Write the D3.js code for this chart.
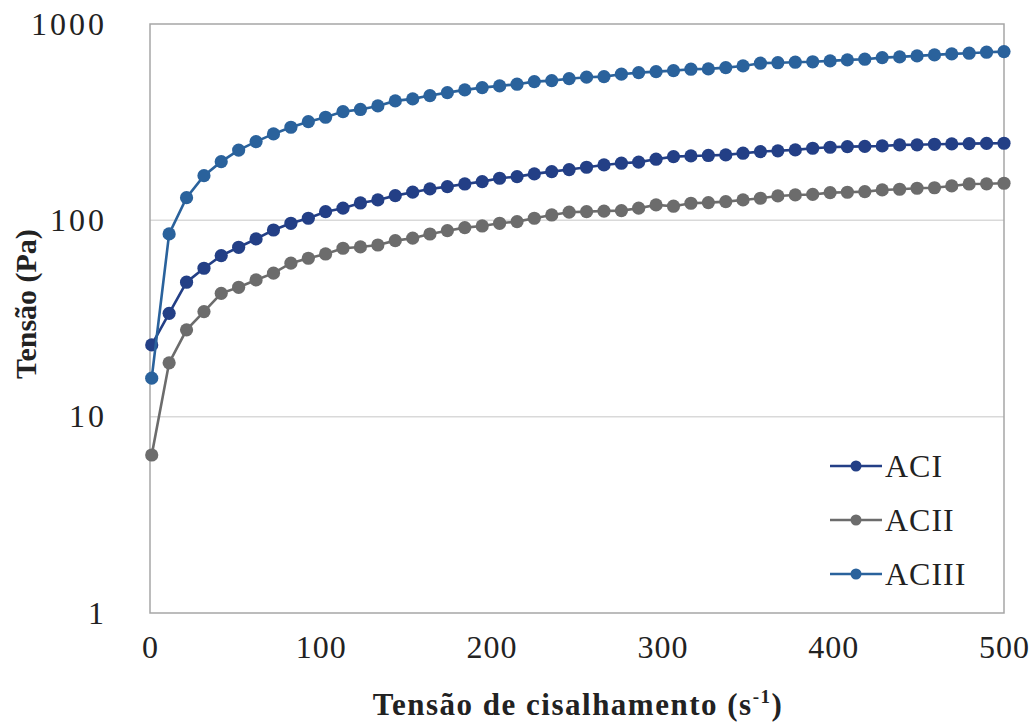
<!DOCTYPE html>
<html>
<head>
<meta charset="utf-8">
<script src="https://cdn.jsdelivr.net/npm/d3@7"></script>
<style>
  body { margin: 0; background: #fff; }
  text { font-family: "Liberation Serif", "Times New Roman", serif; fill: #222; }
</style>
</head>
<body>
<div class="chart"></div>
<script>
// shear rate (s-1), 50 points
const shearRate = [1, 11.2, 21.4, 31.6, 41.7, 51.9, 62.1, 72.3, 82.5, 92.7,
  102.8, 113, 123.2, 133.4, 143.6, 153.8, 163.9, 174.1, 184.3, 194.5,
  204.7, 214.9, 225, 235.2, 245.4, 255.6, 265.8, 276, 286.1, 296.3,
  306.5, 316.7, 326.9, 337.1, 347.2, 357.4, 367.6, 377.8, 388, 398.2,
  408.3, 418.5, 428.7, 438.9, 449.1, 459.3, 469.4, 479.6, 489.8, 500]

const stressACI = [23.2, 33.6, 48.4, 57, 66.1, 72.9, 80.4, 89.3, 96.6, 102.5,
  110.7, 115.3, 122.6, 127, 133.6, 139.1, 144.5, 148.5, 153.2, 157.5,
  163.8, 167, 172.4, 177.1, 181.4, 186.4, 191.5, 195.4, 198, 204.8,
  211.1, 212.8, 214, 215.4, 219.7, 223.9, 226, 228.4, 232.9, 235.7,
  237.4, 238, 239.3, 242.2, 242.5, 244, 245, 246, 246.5, 247]

const stressACII = [6.38, 18.8, 27.7, 34.3, 42.5, 45.6, 49.7, 53.8, 60.5, 64.1,
  67.4, 72.1, 73.2, 74.9, 78.8, 81.1, 85.2, 88.6, 91.8, 93.6,
  96.6, 98.5, 102.5, 106.5, 110, 110.7, 111.5, 112.1, 115.3, 119.8,
  118, 122.2, 123.1, 124.6, 127, 129.6, 133.1, 134.7, 135.5, 138.4,
  139, 140, 142.8, 144, 145.7, 146.5, 149.7, 153.2, 153.5, 154.5]

const stressACIII = [15.7, 85.3, 130.5, 168.9, 199, 228, 251.8, 275.5, 298, 318,
  335, 357.9, 367, 382.5, 405.8, 415.5, 432, 447.3, 461.7, 474.3,
  483.8, 493.5, 508.8, 514.8, 526.5, 535.8, 539.5, 555, 565.5, 572,
  578.8, 588.4, 590.5, 599.6, 611.6, 631.3, 635, 638.8, 642, 648.6,
  656.3, 661.7, 674.2, 680, 687.8, 695.9, 704.2, 709.9, 718.3, 723.4]

const seriesNames = ["ACI", "ACII", "ACIII"]
const xTicks = [0, 100, 200, 300, 400, 500]
const yTicks = [1, 10, 100, 1000]

const colors = {
  ACI: "#233f86",
  ACII: "#6c6c6c",
  ACIII: "#2a629c",
  grid: "#d9d9d9",
  frame: "#a6a6a6"
}

const series = [
  { name: "ACI", values: stressACI },
  { name: "ACII", values: stressACII },
  { name: "ACIII", values: stressACIII }
]

const width = 1034
const height = 724
const margin = { top: 24, right: 30, bottom: 111, left: 150 }
const boundedWidth = width - margin.left - margin.right
const boundedHeight = height - margin.top - margin.bottom

const xScale = d3.scaleLinear()
  .domain([0, 500])
  .range([0, boundedWidth])

const yScale = d3.scaleLog()
  .domain([1, 1000])
  .range([boundedHeight, 0])

const svg = d3.select(".chart")
  .append("svg")
    .attr("width", width)
    .attr("height", height)

const bounds = svg.append("g")
    .attr("transform", `translate(${margin.left},${margin.top})`)

// gridlines
bounds.append("g")
  .selectAll("line")
  .data([10, 100])
  .join("line")
    .attr("x1", 0)
    .attr("x2", boundedWidth)
    .attr("y1", d => yScale(d))
    .attr("y2", d => yScale(d))
    .attr("stroke", colors.grid)
    .attr("stroke-width", 1.5)

// frame
bounds.append("rect")
    .attr("width", boundedWidth)
    .attr("height", boundedHeight)
    .attr("fill", "none")
    .attr("stroke", colors.frame)
    .attr("stroke-width", 1.5)

const yAxis = bounds.append("g")
    .call(d3.axisLeft(yScale).tickValues(yTicks).tickFormat(d3.format("d")).tickSize(0).tickPadding(43))
    .call(g => g.select(".domain").remove())
    .call(g => g.selectAll(".tick text")
        .attr("font-size", 32)
        .attr("letter-spacing", 3)
        .attr("fill", "#222"))

const xAxis = bounds.append("g")
    .attr("transform", `translate(0,${boundedHeight})`)
    .call(d3.axisBottom(xScale).tickValues(xTicks).tickFormat(d3.format("d")).tickSize(0).tickPadding(22))
    .call(g => g.select(".domain").remove())
    .call(g => g.selectAll(".tick text")
        .attr("font-size", 32)
        .attr("letter-spacing", 1)
        .attr("fill", "#222"))

const lineGenerator = d3.line()
  .x((d, i) => xScale(shearRate[i]))
  .y(d => yScale(d))

const seriesGroups = bounds.selectAll(".series")
  .data(series)
  .join("g")
    .attr("class", "series")

seriesGroups.append("path")
    .attr("d", d => lineGenerator(d.values))
    .attr("fill", "none")
    .attr("stroke", d => colors[d.name])
    .attr("stroke-width", 2.6)

seriesGroups.selectAll("circle")
  .data(d => d.values.map((v, i) => ({ name: d.name, x: shearRate[i], y: v })))
  .join("circle")
    .attr("cx", d => xScale(d.x))
    .attr("cy", d => yScale(d.y))
    .attr("r", 6.6)
    .attr("fill", d => colors[d.name])

// legend
const legend = svg.append("g")
    .attr("transform", "translate(830,466)")

const legendItems = legend.selectAll("g")
  .data(seriesNames)
  .join("g")
    .attr("transform", (d, i) => `translate(0,${i * 54})`)

legendItems.append("line")
    .attr("x1", 0)
    .attr("x2", 52)
    .attr("stroke", d => colors[d])
    .attr("stroke-width", 2.6)

legendItems.append("circle")
    .attr("cx", 26)
    .attr("r", 5.5)
    .attr("fill", d => colors[d])

legendItems.append("text")
    .attr("x", 55)
    .attr("dy", "0.35em")
    .attr("font-size", 32)
    .attr("letter-spacing", 1)
    .text(d => d)

// axis titles
svg.append("text")
    .attr("transform", "translate(36,304) rotate(-90)")
    .attr("text-anchor", "middle")
    .attr("font-size", 30)
    .attr("font-weight", "bold")
    .text("Tensão (Pa)")

const xTitle = svg.append("text")
    .attr("x", 578)
    .attr("y", 715)
    .attr("text-anchor", "middle")
    .attr("font-size", 31)
    .attr("letter-spacing", 1.5)
    .attr("font-weight", "bold")

xTitle.append("tspan").text("Tensão de cisalhamento (s")
xTitle.append("tspan").attr("font-size", 19).attr("dy", -12).text("-1")
xTitle.append("tspan").attr("dy", 12).text(")")
</script>
</body>
</html>
